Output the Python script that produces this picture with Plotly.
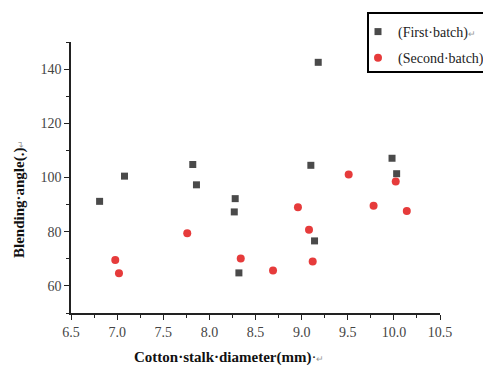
import plotly.graph_objects as go

first_x = [6.81, 7.08, 7.82, 7.86, 8.27, 8.28, 8.32, 9.10, 9.14, 9.18, 9.98, 10.03]
first_y = [91.2, 100.5, 104.8, 97.3, 87.3, 92.2, 64.8, 104.5, 76.6, 142.5, 107.1, 101.4]

second_x = [6.98, 7.02, 7.76, 8.34, 8.69, 8.96, 9.08, 9.12, 9.51, 9.78, 10.02, 10.14]
second_y = [69.6, 64.7, 79.4, 70.1, 65.7, 89.0, 80.7, 69.0, 101.1, 89.6, 98.5, 87.6]

x_ticks = [6.5, 7.0, 7.5, 8.0, 8.5, 9.0, 9.5, 10.0, 10.5]
y_ticks = [60, 80, 100, 120, 140]

serif = "Times New Roman, Liberation Serif, serif"
ret = "<span style='font-size:9px;color:#999'>↵</span>"

# page body has an 8px margin: figure is drawn 8px right/down in the window
OFF = 8
W, H = 491 - OFF, 365 - OFF
PX0, PX1, PY0, PY1 = 71, 440, 42, 313  # plot area in window pixels


def px(xw):
    return (xw - PX0) / (PX1 - PX0)


def py(yw):
    return (PY1 - yw) / (PY1 - PY0)


fig = go.Figure()
fig.add_trace(go.Scatter(
    x=first_x, y=first_y, mode="markers", name="(First·batch)" + ret, legendgroup="a",
    marker=dict(symbol="square", size=7, color="#4a4a4a"),
))
fig.add_trace(go.Scatter(
    x=second_x, y=second_y, mode="markers", name="(Second·batch)" + ret, legendgroup="b",
    marker=dict(symbol="circle", size=8, color="#e63b3b"),
))

fig.update_layout(
    width=W, height=H,
    margin=dict(l=PX0 - OFF, r=W - (PX1 - OFF), t=PY0 - OFF, b=H - (PY1 - OFF), autoexpand=False),
    paper_bgcolor="white", plot_bgcolor="white",
    font=dict(family=serif, size=14, color="#333"),
    showlegend=True,
    legend=dict(
        x=px(358), y=py(16), xanchor="left", yanchor="top",
        bgcolor="rgba(0,0,0,0)", borderwidth=0,
        font=dict(family=serif, size=14, color="#222"),
        itemwidth=30, tracegroupgap=5,
    ),
    shapes=[
        dict(type="rect", xref="paper", yref="paper",
             x0=px(368), x1=px(500), y0=py(72), y1=py(13),
             line=dict(color="black", width=2), fillcolor="white", layer="above"),
    ],
    xaxis=dict(
        range=[6.5, 10.5], tickvals=x_ticks, ticktext=[f"{v:.1f}" for v in x_ticks],
        showgrid=False, zeroline=False, showline=True, linecolor="#222", linewidth=1.5,
        ticks="outside", ticklen=5, tickcolor="#222", tickwidth=1.2,
        minor=dict(dtick=0.25, tick0=6.5, ticks="outside", ticklen=3, tickcolor="#222", showgrid=False),
        tickfont=dict(family=serif, size=14, color="#444"),
    ),
    yaxis=dict(
        range=[50, 150], tickvals=y_ticks,
        showgrid=False, zeroline=False, showline=True, linecolor="#222", linewidth=1.5,
        ticks="outside", ticklen=5, tickcolor="#222", tickwidth=1.2,
        minor=dict(dtick=10, tick0=50, ticks="outside", ticklen=3, tickcolor="#222", showgrid=False),
        tickfont=dict(family=serif, size=14, color="#444"),
    ),
    annotations=[
        dict(text="<b>Cotton·stalk·diameter(mm)</b>·" + ret, xref="paper", yref="paper",
             x=px(229), y=py(357), xanchor="center", yanchor="middle",
             showarrow=False, font=dict(family=serif, size=15, color="#111")),
        dict(text="<b>Blending·angle(.)</b>" + ret, xref="paper", yref="paper",
             x=px(20), y=py(199), xanchor="center", yanchor="middle",
             textangle=-90, showarrow=False, font=dict(family=serif, size=15, color="#111")),
    ],
)

fig.write_html("out.html")
